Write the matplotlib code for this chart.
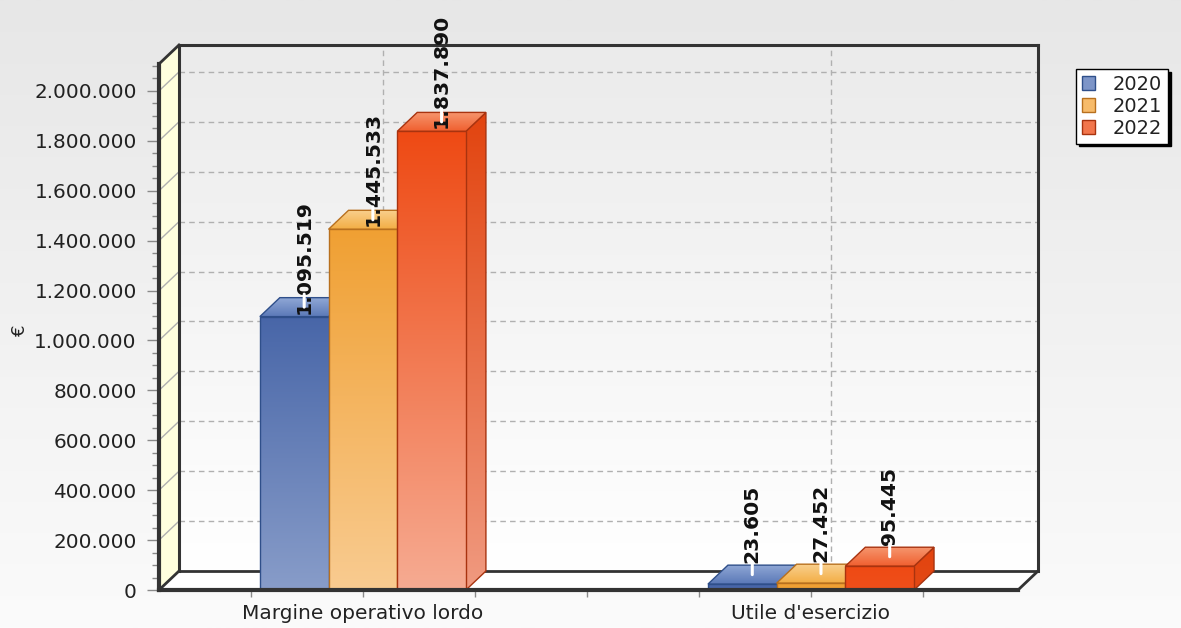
import numpy as np
import matplotlib
matplotlib.use("Agg")
import matplotlib.pyplot as plt
from matplotlib.patches import Polygon, Patch
from matplotlib.colors import to_rgb
from matplotlib.ticker import FixedLocator, FuncFormatter

# ---------------------------------------------------------------- data
categories = ["Margine operativo lordo", "Utile d'esercizio"]
years = ["2020", "2021", "2022"]
values_2020 = [1095519, 23605]
values_2021 = [1445533, 27452]
values_2022 = [1837890, 95445]
series = [values_2020, values_2021, values_2022]
y_major = list(range(0, 2_000_001, 200_000))
y_minor = list(range(0, 2_100_001, 50_000))
x_minor = [-0.25, 0.25, 0.5, 0.75, 1.25]

# ---------------------------------------------------------------- style
# (front top, front bottom, top-face front, top-face back, side top, side bottom, edge)
palette = [
    ("#4866a8", "#b3c1df", "#5a78b7", "#8fa7d5", "#3d5a9a", "#a2b3d6", "#2f4f8a"),
    ("#f0a033", "#fbd7aa", "#f3ae45", "#f9d08e", "#e8962a", "#f6c890", "#b8701e"),
    ("#ee4a14", "#f6ab92", "#f06030", "#f6966e", "#e2440f", "#f09a80", "#a8330f"),
]
legend_colors = ["#7d95c8", "#f7bb6a", "#f2764c"]
DARK = "#333333"
GRID = "#b0b0b0"
BAR_W = 0.1533
XMIN, XMAX = -0.455, 1.462
YTOP = 2.108e6
DX, DY = 0.0446, 76000.0       # oblique depth of the 3D box
SPAN = 1.84e6                  # value span over which a bar shades to its light colour

W, H = 1181, 628
fig = plt.figure(figsize=(W / 100, H / 100), dpi=100)

# page background
bg = fig.add_axes([0, 0, 1, 1], zorder=-10)
bg.axis("off")
t = np.linspace(0, 1, 256)[:, None, None]
c0, c1 = np.array(to_rgb("#e7e7e7")), np.array(to_rgb("#fbfbfb"))
bg.imshow(c0 * (1 - t) + c1 * t, aspect="auto", extent=[0, 1, 0, 1])

ax = fig.add_axes([159 / W, (H - 590) / H, (1038 - 159) / W, (590 - 45) / H])
ax.set_autoscale_on(False)
ax.set_xlim(XMIN, XMAX + DX)
ax.set_ylim(0, YTOP + DY)
ax.patch.set_alpha(0)
for s in ax.spines.values():
    s.set_visible(False)


def shade(c_top, c_bot, n=200):
    tt = np.linspace(0, 1, n)[:, None]
    return (np.array(to_rgb(c_top)) * (1 - tt) + np.array(to_rgb(c_bot)) * tt)[:, None, :]


def grad_fill(verts, c_top, c_bot, z, edge=None, lw=1.0):
    poly = Polygon(verts, closed=True, facecolor="none",
                   edgecolor=edge if edge else "none", lw=lw, zorder=z + 0.05)
    ax.add_patch(poly)
    xs = [v[0] for v in verts]
    ys = [v[1] for v in verts]
    im = ax.imshow(shade(c_top, c_bot), extent=(min(xs), max(xs), min(ys), max(ys)),
                   aspect="auto", zorder=z, interpolation="bilinear")
    im.set_clip_path(poly)
    return poly


def line(p, q, lw, color=DARK, z=3, **kw):
    ax.plot([p[0], q[0]], [p[1], q[1]], color=color, lw=lw, zorder=z,
            solid_capstyle="projecting", clip_on=False, **kw)


# back wall, left wall and floor
grad_fill([(XMIN + DX, DY), (XMAX + DX, DY), (XMAX + DX, YTOP + DY), (XMIN + DX, YTOP + DY)],
          "#ebebeb", "#ffffff", 0.5)
ax.add_patch(Polygon([(XMIN, 0), (XMIN, YTOP), (XMIN + DX, YTOP + DY), (XMIN + DX, DY)],
                     closed=True, facecolor="#ffffde", edgecolor="none", zorder=0.6))
ax.add_patch(Polygon([(XMIN, 0), (XMAX, 0), (XMAX + DX, DY), (XMIN + DX, DY)],
                     closed=True, facecolor="white", edgecolor="none", zorder=0.6))

# grid on the back wall and the left wall
for v in y_major[1:]:
    line((XMIN + DX, v + DY), (XMAX + DX, v + DY), 1, GRID, 1, dashes=(4, 3))
    line((XMIN, v), (XMIN + DX, v + DY), 1, GRID, 1)
for c in range(len(categories)):
    line((c + DX, DY), (c + DX, YTOP + DY), 1, GRID, 1, dashes=(4, 3))

# box edges
line((XMIN + DX, DY), (XMIN + DX, YTOP + DY), 2.2, z=2)
line((XMIN + DX, YTOP + DY), (XMAX + DX, YTOP + DY), 2.2, z=2)
line((XMAX + DX, DY), (XMAX + DX, YTOP + DY), 2.2, z=2)
line((XMIN + DX, DY), (XMAX + DX, DY), 2.0, z=2)
line((XMIN, YTOP), (XMIN + DX, YTOP + DY), 2.0, z=2)
line((XMIN, 0), (XMIN + DX, DY), 2.0, z=2)
line((XMAX, 0), (XMAX + DX, DY), 2.0, z=2)
line((XMIN, 0), (XMIN, YTOP), 3.0, z=2)

# bars
n = len(series)
z = 5
for ci in range(len(categories)):
    for si, vals in enumerate(series):
        ft, fb, tf, tb, st, sb, ec = palette[si]
        v = vals[ci]
        x0 = ci + (si - (n - 1) / 2) * BAR_W - BAR_W / 2
        x1 = x0 + BAR_W
        frac = min(v / SPAN, 1.0)
        fb_eff = np.array(to_rgb(ft)) * (1 - frac) + np.array(to_rgb(fb)) * frac
        sb_eff = np.array(to_rgb(st)) * (1 - frac) + np.array(to_rgb(sb)) * frac
        # side face
        grad_fill([(x1, 0), (x1 + DX, DY), (x1 + DX, v + DY), (x1, v)], st, sb_eff, z, ec)
        # top face
        grad_fill([(x0, v), (x1, v), (x1 + DX, v + DY), (x0 + DX, v + DY)], tb, tf, z + 0.2, ec)
        # front face
        grad_fill([(x0, 0), (x1, 0), (x1, v), (x0, v)], ft, fb_eff, z + 0.4, ec)
        # value label (centred above the bar) with its leader
        xc = (x0 + x1) / 2 + DX / 2
        ax.annotate(f"{v:,}".replace(",", "."), xy=(xc, v), xytext=(0, 60),
                    textcoords="offset pixels", rotation=90, ha="center", va="center",
                    fontsize=14.6, fontweight="bold", color="#111111",
                    zorder=40, annotation_clip=False)
        ax.annotate("", xy=(xc, v + DY / 2), xytext=(0, 13), textcoords="offset pixels",
                    arrowprops=dict(arrowstyle="-", color="white", lw=2.2,
                                    shrinkA=0, shrinkB=0),
                    zorder=41, annotation_clip=False)
        z += 1

line((XMIN, 0), (XMAX, 0), 3.0, z=60)

# axes ticks and labels
ax.yaxis.set_major_locator(FixedLocator(y_major))
ax.yaxis.set_minor_locator(FixedLocator(y_minor))
ax.yaxis.set_major_formatter(FuncFormatter(lambda v, p: f"{int(v):,}".replace(",", ".")))
ax.xaxis.set_major_locator(FixedLocator(range(len(categories))))
ax.xaxis.set_minor_locator(FixedLocator(x_minor))
ax.set_xticklabels(categories)
ax.tick_params(axis="y", which="major", length=9, width=1, color="#8a8a8a",
               labelsize=14.4, labelcolor="#222222", pad=7)
ax.tick_params(axis="y", which="minor", length=5, width=1, color="#8a8a8a")
ax.tick_params(axis="x", which="both", length=5, width=1, color="#8a8a8a",
               labelsize=14.5, labelcolor="#222222", pad=5)
ax.tick_params(top=False, right=False, which="both")

fig.text(20 / W, 1 - 330 / H, "€", rotation=90, ha="center", va="center",
         fontsize=13, color="#222222")

handles = [Patch(facecolor=legend_colors[i], edgecolor=palette[i][6], lw=1) for i in range(n)]
fig.legend(handles, years, loc="upper left", bbox_to_anchor=(1076 / W, 1 - 69 / H),
           borderaxespad=0, frameon=True, fancybox=False, edgecolor="black",
           facecolor="white", framealpha=1, shadow={"color": "black", "alpha": 1},
           fontsize=14, handlelength=0.7, handleheight=0.7, handletextpad=0.9,
           labelspacing=0.15, borderpad=0.3, labelcolor="#222222")

fig.savefig("out.png", dpi=100)
